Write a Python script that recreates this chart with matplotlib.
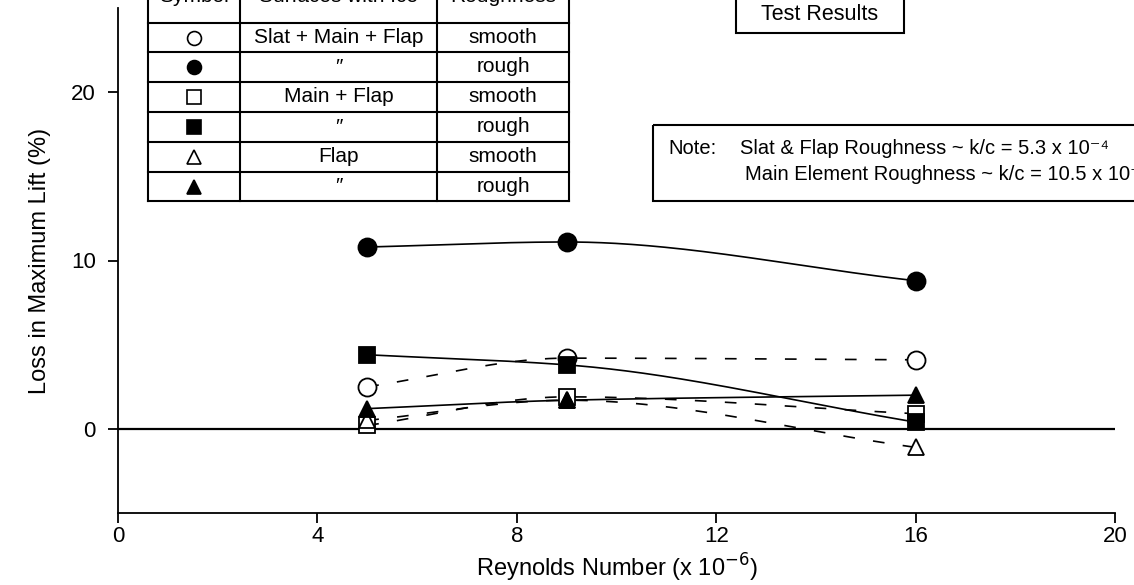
import numpy as np
import matplotlib
matplotlib.use("Agg")
import matplotlib.pyplot as plt
from matplotlib.lines import Line2D
from matplotlib.patches import Rectangle
from matplotlib.transforms import Affine2D

plt.rcParams['font.family'] = ['Liberation Sans', 'DejaVu Sans']

# Reynolds number (x 10^-6)
re_num = [5, 9, 16]

# loss in max lift (%) per configuration
slat_smooth = [2.5, 4.2, 4.1]
slat_rough = [10.8, 11.1, 8.8]
main_smooth = [0.2, 1.9, 0.9]
main_rough = [4.4, 3.8, 0.4]
flap_smooth = [0.5, 1.7, -1.1]
flap_rough = [1.2, 1.7, 2.0]

# legend table
tbl_symbols = ['o', 'o', 's', 's', '^', '^']
tbl_filled = [False, True, False, True, False, True]
tbl_surfaces = ['Slat + Main + Flap', '\u2033', 'Main + Flap', '\u2033', 'Flap', '\u2033']
tbl_rough = ['smooth', 'rough', 'smooth', 'rough', 'smooth', 'rough']
tbl_header = ['Symbol', 'Surfaces with Ice', 'Roughness']


def pchip(x, y, xs):
    # monotone cubic (Fritsch-Carlson) used only to draw the smooth connecting line
    x = np.asarray(x, float)
    y = np.asarray(y, float)
    h = np.diff(x)
    d = np.diff(y) / h
    m = np.zeros_like(y)
    m[0], m[-1] = d[0], d[-1]
    for k in range(1, len(x) - 1):
        if d[k - 1] * d[k] > 0:
            w1 = 2 * h[k] + h[k - 1]
            w2 = h[k] + 2 * h[k - 1]
            m[k] = (w1 + w2) / (w1 / d[k - 1] + w2 / d[k])
    out = np.empty_like(xs)
    for i, xv in enumerate(xs):
        k = min(np.searchsorted(x, xv, side='right') - 1, len(x) - 2)
        t = (xv - x[k]) / h[k]
        h00 = 2 * t**3 - 3 * t**2 + 1
        h10 = t**3 - 2 * t**2 + t
        h01 = -2 * t**3 + 3 * t**2
        h11 = t**3 - t**2
        out[i] = h00 * y[k] + h10 * h[k] * m[k] + h01 * y[k + 1] + h11 * h[k] * m[k + 1]
    return out


W, H = 1134, 585
fig = plt.figure(figsize=(W / 100, H / 100), dpi=100)
ax = fig.add_axes([118 / W, 1 - 513 / H, (1115 - 118) / W, (513 - 8) / H])

series = [
    (slat_smooth, 'o', False, 'dashed', 13),
    (slat_rough, 'o', True, 'solid', 13),
    (main_smooth, 's', False, 'dashed', 11),
    (main_rough, 's', True, 'solid', 11),
    (flap_smooth, '^', False, 'dashed', 12),
    (flap_rough, '^', True, 'solid', 12),
]

xs = np.linspace(min(re_num), max(re_num), 200)
for vals, mk, filled, ls, ms in series:
    line, = ax.plot(xs, pchip(re_num, vals, xs), color='black', lw=1.2, zorder=2)
    if ls == 'dashed':
        line.set_dashes((7, 11))

for vals, mk, filled, ls, ms in series:
    ax.plot(re_num, vals, linestyle='none', marker=mk, ms=ms,
            mfc='black' if filled else 'white', mec='black', mew=1.3, zorder=3)

ax.axhline(0, color='black', lw=1.6, zorder=1)

ax.set_xlim(0, 20)
ax.set_ylim(-5, 25)
ax.set_xticks([0, 4, 8, 12, 16, 20])
ax.set_yticks([0, 10, 20])
ax.spines['top'].set_visible(False)
ax.spines['right'].set_visible(False)
ax.spines['left'].set_linewidth(1.3)
ax.spines['bottom'].set_linewidth(1.3)
ax.tick_params(axis='both', direction='out', length=7, width=1.3, labelsize=16)
ax.tick_params(axis='y', pad=9)
ax.tick_params(axis='x', pad=2)
ax.set_xlabel('Reynolds Number (x 10$^{-6}$)', fontsize=17, labelpad=4)
ax.set_ylabel('Loss in Maximum Lift (%)', fontsize=17, labelpad=14)

# pixel coords (from top-left) to figure
px = Affine2D().scale(1 / W, -1 / H).translate(0, 1) + fig.transFigure

# legend table
col_x = [148, 240, 437, 569]
row_y = [-30, 23, 52, 82, 112, 142, 172, 201]
for x in col_x:
    fig.add_artist(Line2D([x, x], [row_y[0], row_y[-1]], transform=px, color='black', lw=1.5))
for y in row_y[1:]:
    fig.add_artist(Line2D([col_x[0], col_x[-1]], [y, y], transform=px, color='black', lw=1.5))
for j, t in enumerate(tbl_header):
    fig.text((col_x[j] + col_x[j + 1]) / 2, -3, t, transform=px, ha='center', va='center', fontsize=15)
for i in range(len(tbl_symbols)):
    yc = (row_y[i + 1] + row_y[i + 2]) / 2
    xc0 = (col_x[0] + col_x[1]) / 2
    fig.add_artist(Line2D([xc0], [yc], transform=px, marker=tbl_symbols[i], ms=10,
                          mfc='black' if tbl_filled[i] else 'white', mec='black', mew=1.2))
    fig.text((col_x[1] + col_x[2]) / 2, yc, tbl_surfaces[i], transform=px,
             ha='center', va='center', fontsize=15)
    fig.text((col_x[2] + col_x[3]) / 2, yc, tbl_rough[i], transform=px,
             ha='center', va='center', fontsize=15)

# Test Results box
fig.add_artist(Rectangle((736, -30), 904 - 736, 63, transform=px, fill=False, ec='black', lw=1.5))
fig.text(820, 15, 'Test Results', transform=px, ha='center', va='center', fontsize=15.5)

# note box
fig.add_artist(Rectangle((653, 125), 600, 76, transform=px, fill=False, ec='black', lw=1.5))
fig.text(668, 148, 'Note:', transform=px, ha='left', va='center', fontsize=14.5)
fig.text(740, 148, 'Slat & Flap Roughness ~ k/c = 5.3 x 10\u207b\u2074', transform=px,
         ha='left', va='center', fontsize=14.5)
fig.text(745, 174, 'Main Element Roughness ~ k/c = 10.5 x 10\u207b\u2074', transform=px,
         ha='left', va='center', fontsize=14.5)

fig.savefig('out.png', dpi=100)
